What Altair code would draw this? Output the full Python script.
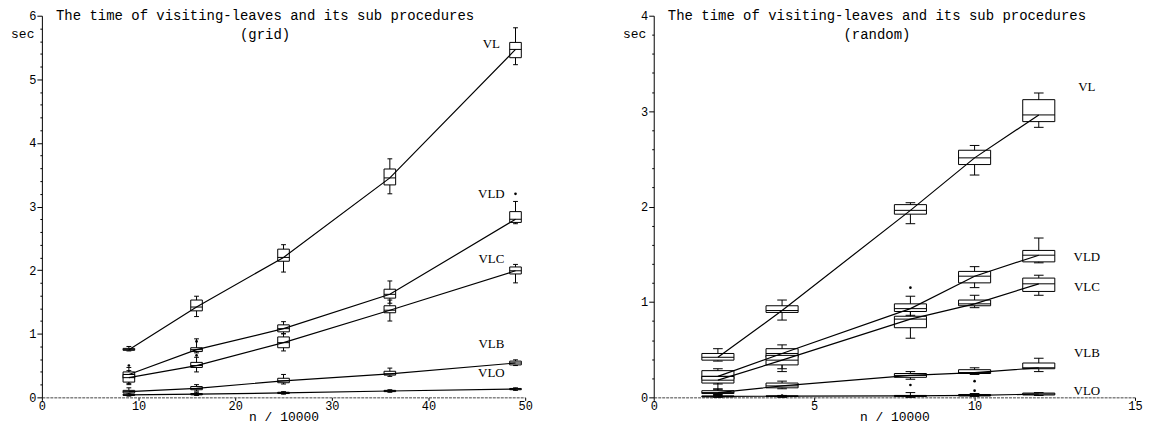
import altair as alt
import pandas as pd

SERIES = ["VL", "VLD", "VLC", "VLB", "VLO"]

# ---------------- grid panel ----------------
GRID_N = [9, 16, 25, 36, 49]
GRID_LO = {
    "VL": [0.73, 1.27, 1.97, 3.20, 5.23],
    "VLD": [0.22, 0.70, 1.00, 1.48, 2.73],
    "VLC": [0.20, 0.40, 0.73, 1.20, 1.80],
    "VLB": [0.05, 0.10, 0.21, 0.33, 0.50],
    "VLO": [0.02, 0.03, 0.05, 0.08, 0.11],
}
GRID_Q1 = {
    "VL": [0.74, 1.36, 2.14, 3.34, 5.34],
    "VLD": [0.30, 0.72, 1.03, 1.56, 2.75],
    "VLC": [0.24, 0.47, 0.78, 1.33, 1.94],
    "VLB": [0.07, 0.12, 0.23, 0.35, 0.51],
    "VLO": [0.03, 0.04, 0.06, 0.09, 0.12],
}
GRID_MED = {
    "VL": [0.75, 1.42, 2.20, 3.45, 5.47],
    "VLD": [0.36, 0.75, 1.08, 1.62, 2.80],
    "VLC": [0.31, 0.50, 0.86, 1.37, 1.99],
    "VLB": [0.09, 0.14, 0.26, 0.37, 0.54],
    "VLO": [0.04, 0.05, 0.07, 0.10, 0.13],
}
GRID_Q3 = {
    "VL": [0.77, 1.53, 2.33, 3.59, 5.58],
    "VLD": [0.40, 0.78, 1.14, 1.70, 2.92],
    "VLC": [0.36, 0.55, 0.95, 1.44, 2.05],
    "VLB": [0.11, 0.17, 0.30, 0.41, 0.57],
    "VLO": [0.05, 0.06, 0.08, 0.11, 0.14],
}
GRID_HI = {
    "VL": [0.80, 1.59, 2.40, 3.75, 5.81],
    "VLD": [0.47, 0.92, 1.19, 1.83, 3.08],
    "VLC": [0.42, 0.63, 1.00, 1.53, 2.09],
    "VLB": [0.15, 0.20, 0.36, 0.46, 0.59],
    "VLO": [0.07, 0.08, 0.09, 0.12, 0.15],
}
GRID_OUT_X = [9, 16, 16, 49]
GRID_OUT_Y = [0.50, 0.88, 0.66, 3.20]
GRID_LABEL_X = [46.5, 46.5, 46.5, 46.5, 46.5]
GRID_LABEL_Y = [5.56, 3.20, 2.17, 0.84, 0.38]
GRID_TITLE = ["The time of visiting-leaves and its sub procedures", "(grid)"]

# ---------------- random panel ----------------
RAND_N = [2, 4, 8, 10, 12]
RAND_LO = {
    "VL": [0.38, 0.81, 1.82, 2.33, 2.83],
    "VLD": [0.14, 0.30, 0.86, 1.15, 1.41],
    "VLC": [0.08, 0.27, 0.62, 0.94, 1.07],
    "VLB": [0.03, 0.09, 0.19, 0.24, 0.27],
    "VLO": [0.00, 0.00, 0.00, 0.01, 0.02],
}
RAND_Q1 = {
    "VL": [0.39, 0.89, 1.92, 2.44, 2.89],
    "VLD": [0.19, 0.42, 0.90, 1.20, 1.42],
    "VLC": [0.15, 0.34, 0.73, 0.96, 1.11],
    "VLB": [0.04, 0.10, 0.21, 0.25, 0.30],
    "VLO": [0.005, 0.01, 0.01, 0.015, 0.025],
}
RAND_MED = {
    "VL": [0.42, 0.91, 1.96, 2.51, 2.96],
    "VLD": [0.22, 0.46, 0.93, 1.27, 1.49],
    "VLC": [0.18, 0.39, 0.82, 0.98, 1.19],
    "VLB": [0.05, 0.12, 0.23, 0.26, 0.31],
    "VLO": [0.01, 0.012, 0.015, 0.02, 0.035],
}
RAND_Q3 = {
    "VL": [0.46, 0.96, 2.02, 2.59, 3.12],
    "VLD": [0.28, 0.51, 0.98, 1.32, 1.54],
    "VLC": [0.22, 0.44, 0.85, 1.02, 1.25],
    "VLB": [0.07, 0.15, 0.25, 0.29, 0.36],
    "VLO": [0.015, 0.015, 0.02, 0.03, 0.045],
}
RAND_HI = {
    "VL": [0.51, 1.02, 2.04, 2.64, 3.19],
    "VLD": [0.30, 0.55, 1.06, 1.37, 1.67],
    "VLC": [0.26, 0.47, 0.90, 1.07, 1.28],
    "VLB": [0.09, 0.17, 0.27, 0.31, 0.41],
    "VLO": [0.02, 0.02, 0.05, 0.04, 0.05],
}
RAND_OUT_X = [8, 4, 8, 10, 10]
RAND_OUT_Y = [1.15, 0.02, 0.13, 0.17, 0.07]
RAND_LABEL_X = [13.5, 13.5, 13.5, 13.5, 13.5]
RAND_LABEL_Y = [3.25, 1.47, 1.16, 0.47, 0.07]
RAND_TITLE = ["The time of visiting-leaves and its sub procedures", "(random)"]

MONO = "Liberation Mono"
SERIF = "Liberation Serif"


def panel(ns, lo, q1, med, q3, hi, out_x, out_y, lab_x, lab_y, title,
          xmax, xstep, ymax, hw, cw, width, height):
    rows = []
    for s in SERIES:
        for i, n in enumerate(ns):
            rows.append(dict(series=s, n=n, lo=lo[s][i], q1=q1[s][i], med=med[s][i],
                             q3=q3[s][i], hi=hi[s][i], xlo=n - hw, xhi=n + hw,
                             clo=n - cw, chi=n + cw))
    df = pd.DataFrame(rows)
    xs = alt.Scale(domain=[0, xmax], nice=False, zero=False)
    ys = alt.Scale(domain=[0, ymax], nice=False, zero=False)
    xvals = list(range(0, xmax + 1, xstep))
    yvals = [round(i * 0.2, 1) for i in range(int(round(ymax * 5)) + 1)]
    xaxis = alt.Axis(values=xvals, tickSize=3, tickColor="black", labelPadding=0,
                     labelFont=MONO, labelFontSize=12, labelColor="black",
                     domainColor="#444", domainDash=[3, 1], titleFont=MONO,
                     titleFontSize=13, titleFontWeight="normal", titleColor="black",
                     titlePadding=-1, grid=False, labelFlush=False)
    yaxis = alt.Axis(values=yvals,
                     labelExpr="abs(datum.value - round(datum.value)) < 0.001 ? '' + round(datum.value) : ''",
                     tickSize={"condition": {"test": "abs(datum.value - round(datum.value)) < 0.001",
                                             "value": 5}, "value": 2},
                     tickColor="black", domainColor="black", labelFont=MONO,
                     labelFontSize=12, labelColor="black", labelPadding=1,
                     titleFont=MONO, titleFontSize=13, titleFontWeight="normal",
                     titleColor="black", titleAngle=0, titleAlign="right",
                     titleBaseline="middle", titleX=-8, titleY=18, grid=False,
                     labelFlush=False)

    def X(f):
        return alt.X(f, type="quantitative", scale=xs, axis=xaxis, title="n / 10000")

    def Y(f):
        return alt.Y(f, type="quantitative", scale=ys, axis=yaxis, title="sec")

    base = alt.Chart(df)
    whisk = base.mark_rule(color="black", strokeWidth=1).encode(x=X("n"), y=Y("lo"), y2="hi")
    cap_lo = base.mark_rule(color="black", strokeWidth=1).encode(x=X("clo"), x2="chi", y=Y("lo"))
    cap_hi = base.mark_rule(color="black", strokeWidth=1).encode(x=X("clo"), x2="chi", y=Y("hi"))
    box = base.mark_rect(fill="white", stroke="black", strokeWidth=1).encode(
        x=X("xlo"), x2="xhi", y=Y("q1"), y2="q3")
    medr = base.mark_rule(color="black", strokeWidth=1).encode(x=X("xlo"), x2="xhi", y=Y("med"))
    line = base.mark_line(color="black", strokeWidth=1.2).encode(
        x=X("n"), y=Y("med"), detail="series:N")
    odf = pd.DataFrame({"x": out_x, "y": out_y})
    outl = alt.Chart(odf).mark_circle(size=7, color="black", opacity=1).encode(x=X("x"), y=Y("y"))
    ldf = pd.DataFrame({"name": SERIES, "x": lab_x, "y": lab_y})
    labels = alt.Chart(ldf).mark_text(font=SERIF, fontSize=13, align="center",
                                      baseline="middle", color="black").encode(
        x=X("x"), y=Y("y"), text="name:N")
    ttl = alt.Chart(pd.DataFrame({"t": [0]})).mark_text(
        text=title, font=MONO, fontSize=14, align="center", baseline="middle",
        lineHeight=19, color="black").encode(x=alt.value(224), y=alt.value(0))
    return alt.layer(whisk, cap_lo, cap_hi, box, medr, line, outl, labels, ttl).properties(
        width=width, height=height)


left = panel(GRID_N, GRID_LO, GRID_Q1, GRID_MED, GRID_Q3, GRID_HI, GRID_OUT_X, GRID_OUT_Y,
             GRID_LABEL_X, GRID_LABEL_Y, GRID_TITLE, 50, 10, 6, 0.6, 0.25, 485, 383)
right = panel(RAND_N, RAND_LO, RAND_Q1, RAND_MED, RAND_Q3, RAND_HI, RAND_OUT_X, RAND_OUT_Y,
              RAND_LABEL_X, RAND_LABEL_Y, RAND_TITLE, 15, 5, 4, 0.5, 0.15, 483, 383)

chart = alt.hconcat(left, right, spacing=129, bounds="flush").properties(
    padding={"left": 2, "top": 0, "right": 0, "bottom": 0},
    background="white",
).configure_view(stroke=None)

chart.save("out.html", embed_options={"renderer": "svg", "actions": False})
